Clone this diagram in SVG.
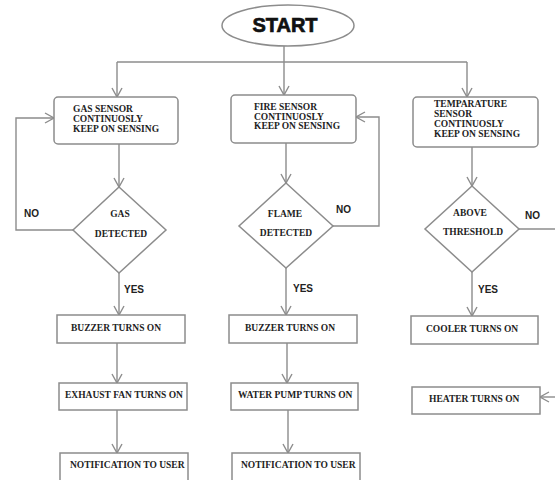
<svg xmlns="http://www.w3.org/2000/svg" width="555" height="480" viewBox="0 0 555 480">
<style>
.box{fill:#fff;stroke:#8c8c8c;stroke-width:1.5}
.ln{fill:none;stroke:#8c8c8c;stroke-width:1.4}
.t{font-family:"Liberation Serif","Times New Roman",serif;font-weight:bold;font-size:9.5px;fill:#222}
.lbl{font-family:"Liberation Sans",Arial,sans-serif;font-weight:bold;font-size:10px;fill:#222}
.st{font-family:"Liberation Sans",Arial,sans-serif;font-weight:bold;font-size:20px;fill:#111;stroke:#111;stroke-width:0.7}
.m{text-anchor:middle}
</style>
<defs>
<marker id="arr" markerWidth="12" markerHeight="12" refX="10" refY="6" orient="auto" markerUnits="userSpaceOnUse">
<path d="M1,1 L10,6 L1,11" fill="none" stroke="#8c8c8c" stroke-width="1.4"/>
</marker>
</defs>
<rect width="555" height="480" fill="#fff"/>
<g id="connectors">
<path class="ln" d="M284,46 V95" marker-end="url(#arr)"/>
<path class="ln" d="M117,62 H467"/>
<path class="ln" d="M117,62 V97" marker-end="url(#arr)"/>
<path class="ln" d="M467,62 V97" marker-end="url(#arr)"/>
<path class="ln" d="M119,144 V187" marker-end="url(#arr)"/>
<path class="ln" d="M73,230 H16 V118 H54" marker-end="url(#arr)"/>
<path class="ln" d="M119,273 V315" marker-end="url(#arr)"/>
<path class="ln" d="M117,343 V383" marker-end="url(#arr)"/>
<path class="ln" d="M117,410 V453" marker-end="url(#arr)"/>
<path class="ln" d="M286,143 V183" marker-end="url(#arr)"/>
<path class="ln" d="M333,226 H379 V117 H356" marker-end="url(#arr)"/>
<path class="ln" d="M286,268 V315" marker-end="url(#arr)"/>
<path class="ln" d="M287,343 V383" marker-end="url(#arr)"/>
<path class="ln" d="M288,410 V453" marker-end="url(#arr)"/>
<path class="ln" d="M472,147 V186" marker-end="url(#arr)"/>
<path class="ln" d="M519,229 H556"/>
<path class="ln" d="M472,272 V316" marker-end="url(#arr)"/>
<path class="ln" d="M556,397 H540" marker-end="url(#arr)"/>
<text class="lbl" x="24" y="217">NO</text>
<text class="lbl" x="124" y="293">YES</text>
<text class="lbl" x="336" y="213">NO</text>
<text class="lbl" x="293" y="292">YES</text>
<text class="lbl" x="525" y="219">NO</text>
<text class="lbl" x="478" y="293">YES</text>
</g>
<g id="start">
<ellipse class="box" cx="288" cy="25.5" rx="66" ry="20.5"/>
<text class="st m" x="285" y="32">START</text>
</g>
<g id="gas-sensor">
<rect class="box" x="54" y="97" width="124" height="47" rx="4"/>
<text class="t" x="73" y="112">GAS SENSOR</text>
<text class="t" x="73" y="122">CONTINUOSLY</text>
<text class="t" x="73" y="131.5">KEEP ON SENSING</text>
</g>
<g id="fire-sensor">
<rect class="box" x="231" y="95" width="125" height="48" rx="4"/>
<text class="t" x="254" y="110">FIRE SENSOR</text>
<text class="t" x="254" y="119.5">CONTINUOSLY</text>
<text class="t" x="254" y="129">KEEP ON SENSING</text>
</g>
<g id="temp-sensor">
<rect class="box" x="413" y="97" width="125" height="50" rx="4"/>
<text class="t" x="434" y="107">TEMPARATURE</text>
<text class="t" x="434" y="117">SENSOR</text>
<text class="t" x="434" y="127">CONTINUOSLY</text>
<text class="t" x="434" y="137">KEEP ON SENSING</text>
</g>
<g id="gas-detected">
<polygon class="box" points="119,187 166,230 119,273 73,230"/>
<text class="t m" x="120" y="217">GAS</text>
<text class="t m" x="121" y="237">DETECTED</text>
</g>
<g id="flame-detected">
<polygon class="box" points="286,183 333,226 286,268 239,226"/>
<text class="t m" x="285" y="217">FLAME</text>
<text class="t m" x="286" y="236">DETECTED</text>
</g>
<g id="above-threshold">
<polygon class="box" points="472,186 519,229 472,272 425,229"/>
<text class="t m" x="470" y="216">ABOVE</text>
<text class="t m" x="473" y="235">THRESHOLD</text>
</g>
<g id="buzzer1">
<rect class="box" x="57" y="315" width="128" height="28"/>
<text class="t" x="71" y="331">BUZZER TURNS ON</text>
</g>
<g id="exhaust">
<rect class="box" x="59" y="383" width="128" height="27"/>
<text class="t" x="65" y="398">EXHAUST FAN TURNS ON</text>
</g>
<g id="notify1">
<rect class="box" x="60" y="453" width="128" height="34"/>
<text class="t" x="70" y="468">NOTIFICATION TO USER</text>
</g>
<g id="buzzer2">
<rect class="box" x="229" y="315" width="128" height="28"/>
<text class="t" x="245" y="331">BUZZER TURNS ON</text>
</g>
<g id="water-pump">
<rect class="box" x="231" y="383" width="127" height="27"/>
<text class="t" x="238" y="398">WATER PUMP TURNS ON</text>
</g>
<g id="notify2">
<rect class="box" x="232" y="453" width="128" height="34"/>
<text class="t" x="241" y="468">NOTIFICATION TO USER</text>
</g>
<g id="cooler">
<rect class="box" x="411" y="316" width="127" height="28"/>
<text class="t" x="426" y="332">COOLER TURNS ON</text>
</g>
<g id="heater">
<rect class="box" x="412" y="387" width="128" height="27"/>
<text class="t" x="429" y="402">HEATER TURNS ON</text>
</g>
</svg>
